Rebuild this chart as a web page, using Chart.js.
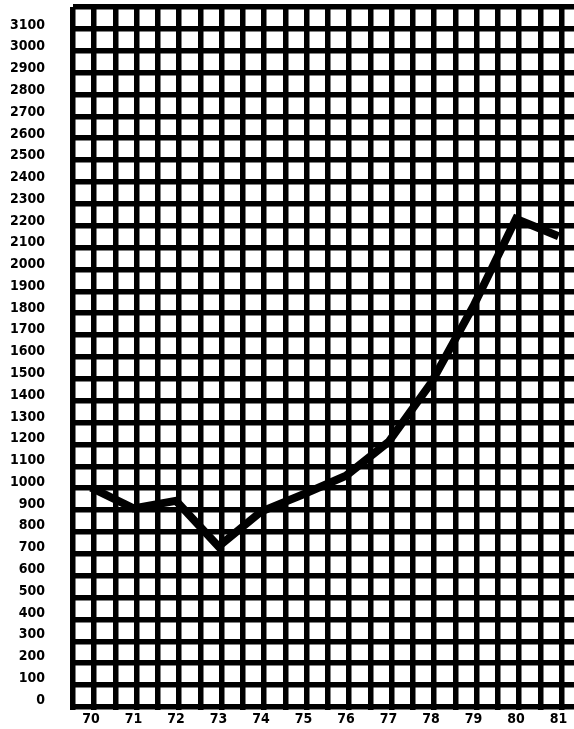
<!DOCTYPE html>
<html>
<head>
<meta charset="utf-8">
<style>
  html, body { margin: 0; padding: 0; background: #ffffff; }
  canvas { display: block; background: #ffffff; }
</style>
<script src="https://cdn.jsdelivr.net/npm/chart.js@4/dist/chart.umd.min.js"></script>
</head>
<body>
<canvas id="c" width="574" height="729"></canvas>
<script>
// ---- data ----
const years = [70, 71, 72, 73, 74, 75, 76, 77, 78, 79, 80, 81];
const values = [975, 880, 915, 705, 865, 945, 1030, 1185, 1455, 1810, 2210, 2130];
const yTickLabels = [0, 100, 200, 300, 400, 500, 600, 700, 800, 900, 1000, 1100, 1200, 1300, 1400, 1500,
  1600, 1700, 1800, 1900, 2000, 2100, 2200, 2300, 2400, 2500, 2600, 2700, 2800, 2900, 3000, 3100];
const xTickLabels = [70, 71, 72, 73, 74, 75, 76, 77, 78, 79, 80, 81];

// ---- layout / styling ----
const X_MIN = 69.576, X_MAX = 81.365;
const Y_MIN = -45.9, Y_MAX = 3182.7;
const GRID_W = 5.5;
const labelFont = { family: '"DejaVu Sans Condensed", "DejaVu Sans", sans-serif', size: 14, weight: 'bold' };

// graph-paper grid (offset from labels, as on the printed sheet)
const vGrid = [];
for (let k = 0; k <= 23; k++) vGrid.push(X_MIN + 0.5 * k);
const hGrid = [];
for (let k = 0; k <= 32; k++) hGrid.push(-32 + 100.46 * k);

function noPad(s) { s.paddingTop = 0; s.paddingBottom = 0; s.paddingLeft = 0; s.paddingRight = 0; }

new Chart(document.getElementById('c'), {
  type: 'line',
  data: {
    datasets: [{
      data: years.map((y, i) => ({ x: y, y: values[i] })),
      borderColor: '#000000',
      borderWidth: 8,
      pointRadius: 0,
      tension: 0,
      fill: false
    }]
  },
  options: {
    responsive: false,
    devicePixelRatio: 1,
    animation: false,
    layout: { padding: { top: 7, right: 0, bottom: 0, left: 0 } },
    plugins: { legend: { display: false }, tooltip: { enabled: false } },
    scales: {
      x: {
        type: 'linear', position: 'bottom', min: X_MIN, max: X_MAX,
        afterBuildTicks: s => { s.ticks = xTickLabels.map(v => ({ value: v })); },
        afterFit: s => { s.height = 19; noPad(s); },
        grid: { display: false, drawTicks: false },
        border: { display: false },
        ticks: { color: '#000', font: labelFont, padding: 1, maxRotation: 0, autoSkip: false,
                 callback: v => String(v) }
      },
      xg: {
        type: 'linear', position: 'top', min: X_MIN, max: X_MAX,
        afterBuildTicks: s => { s.ticks = vGrid.map(v => ({ value: v })); },
        afterFit: s => { s.height = 0; noPad(s); },
        grid: { display: true, color: '#000', lineWidth: GRID_W, drawTicks: false },
        border: { display: false },
        ticks: { display: false }
      },
      y: {
        type: 'linear', position: 'left', min: Y_MIN, max: Y_MAX,
        afterBuildTicks: s => { s.ticks = yTickLabels.map(v => ({ value: v })); },
        afterFit: s => { s.width = 73; noPad(s); },
        grid: { display: false, drawTicks: false },
        border: { display: false },
        ticks: { color: '#000', font: labelFont, padding: 28, autoSkip: false,
                 callback: v => String(v) }
      },
      yg: {
        type: 'linear', position: 'right', min: Y_MIN, max: Y_MAX,
        afterBuildTicks: s => { s.ticks = hGrid.map(v => ({ value: v })); },
        afterFit: s => { s.width = 0; noPad(s); },
        grid: { display: true, color: '#000', lineWidth: GRID_W, drawTicks: false },
        border: { display: false },
        ticks: { display: false }
      }
    }
  }
});
</script>
</body>
</html>
